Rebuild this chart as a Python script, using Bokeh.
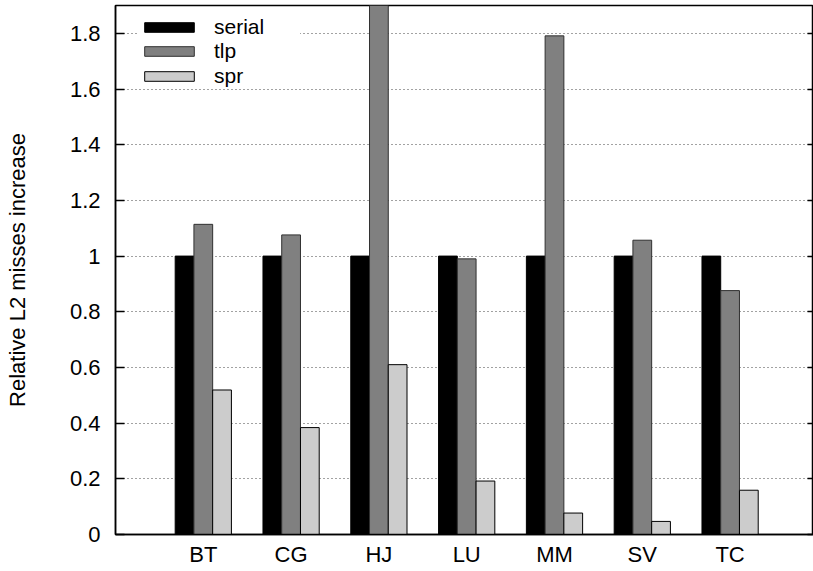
from bokeh.plotting import figure
from bokeh.models import (Range1d, FixedTicker, LinearAxis, Legend, LegendItem)
from bokeh.embed import file_html
from bokeh.resources import INLINE
import numpy as np

categories = ["BT", "CG", "HJ", "LU", "MM", "SV", "TC"]
serial = [1.0, 1.0, 1.0, 1.0, 1.0, 1.0, 1.0]
tlp = [1.114, 1.076, 2.0, 0.99, 1.791, 1.057, 0.876]
spr = [0.519, 0.384, 0.61, 0.192, 0.077, 0.047, 0.159]
y_ticks = [0, 0.2, 0.4, 0.6, 0.8, 1.0, 1.2, 1.4, 1.6, 1.8]
y_tick_labels = ["0", "0.2", "0.4", "0.6", "0.8", "1", "1.2", "1.4", "1.6", "1.8"]
series_names = ["serial", "tlp", "spr"]

FONT = "Liberation Sans"
FS = "22px"

p = figure(width=813, height=571, output_backend="svg", toolbar_location=None,
           x_range=Range1d(-1.0, 6.95), y_range=Range1d(0, 1.9),
           min_border_left=115, min_border_right=0, min_border_top=5,
           min_border_bottom=37)
p.outline_line_color = "black"
p.outline_line_width = 1.5

bw = 0.2135
idx = np.arange(len(categories))
r1 = p.vbar(x=idx - bw, top=serial, width=bw, fill_color="black", line_color="black", line_width=1)
r2 = p.vbar(x=idx, top=tlp, width=bw, fill_color="#808080", line_color="#303030", line_width=1)
r3 = p.vbar(x=idx + bw, top=spr, width=bw, fill_color="#cccccc", line_color="black", line_width=1)

ya = p.yaxis[0]
ya.ticker = FixedTicker(ticks=y_ticks)
ya.major_label_overrides = {t: l for t, l in zip(y_ticks, y_tick_labels)}
ya.major_tick_in = 9
ya.major_tick_out = 0
ya.minor_tick_in = 0
ya.minor_tick_out = 0
ya.major_label_standoff = 15
ya.major_label_text_font = FONT
ya.major_label_text_font_size = FS
ya.major_label_text_color = "black"
ya.axis_line_width = 1.5
ya.axis_line_color = "black"
ya.major_tick_line_width = 1.5
ya.axis_label = "Relative L2 misses increase"
ya.axis_label_text_font = FONT
ya.axis_label_text_font_size = FS
ya.axis_label_text_font_style = "normal"
ya.axis_label_text_color = "black"
ya.axis_label_standoff = 37

ra = LinearAxis(ticker=FixedTicker(ticks=y_ticks),
                major_label_overrides={t: "" for t in y_ticks},
                major_tick_in=6, major_tick_out=0, minor_tick_in=0, minor_tick_out=0,
                major_label_standoff=0, axis_line_color=None,
                major_tick_line_width=1.5)
p.add_layout(ra, "right")

xa = p.xaxis[0]
xa.ticker = FixedTicker(ticks=list(idx))
xa.major_label_overrides = {int(i): c for i, c in zip(idx, categories)}
xa.major_tick_in = 0
xa.major_tick_out = 0
xa.minor_tick_in = 0
xa.minor_tick_out = 0
xa.major_label_standoff = 7
xa.major_label_text_font = FONT
xa.major_label_text_font_size = FS
xa.major_label_text_color = "black"
xa.axis_line_width = 1.5
xa.axis_line_color = "black"

p.xgrid.grid_line_color = None
p.ygrid.ticker = FixedTicker(ticks=y_ticks[1:])
p.ygrid.grid_line_color = "#444444"
p.ygrid.grid_line_dash = "1 3"
p.ygrid.grid_line_width = 1

# one legend per entry so the row pitch can match the original
legend_cfg = [(r1, 495, 1.0, 86), (r2, 471, 0.0, 20), (r3, 446, 0.0, 20)]
for name, (rend, vy, bga, lw) in zip(series_names, legend_cfg):
    lg = Legend(items=[LegendItem(label=name, renderers=[rend])],
                location=(23, vy), padding=5, spacing=0,
                glyph_width=62, glyph_height=12, label_height=20, label_width=lw,
                label_standoff=14, label_text_font=FONT, label_text_font_size="21px",
                label_text_color="black",
                border_line_color=None, background_fill_color="white",
                background_fill_alpha=bga)
    p.add_layout(lg)

open("out.html", "w").write(file_html(p, INLINE))
